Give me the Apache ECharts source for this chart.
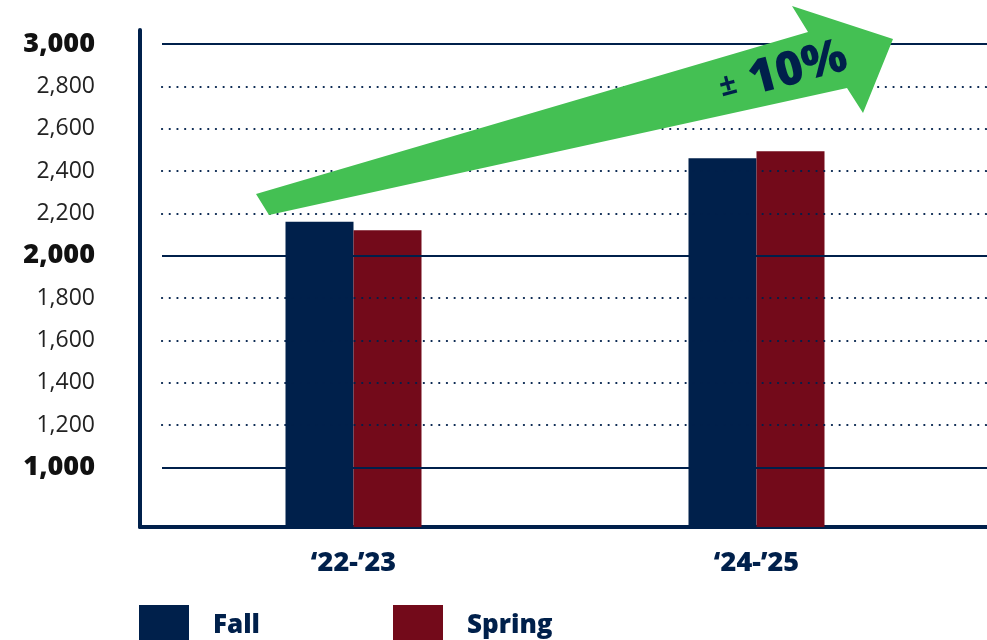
<!DOCTYPE html>
<html><head><meta charset="utf-8">
<script src="https://cdn.jsdelivr.net/npm/echarts@6/dist/echarts.min.js"></script>
<style>html,body{margin:0;padding:0;background:#fff}#c{width:987px;height:640px}</style>
</head><body><div id="c"></div>
<script>
const categories = ["\u201822-\u201923", "\u201824-\u201925"];
const fallValues = [2160, 2460];
const springValues = [2120, 2493];
const yTickValues = [1000, 1200, 1400, 1600, 1800, 2000, 2200, 2400, 2600, 2800, 3000];
const majorTicks = [1000, 2000, 3000];
const arrowLabel = "10%";

const NAVY = '#00204b', MAROON = '#730a1a', GREEN = '#44c053';
const FONT = "'Open Sans', sans-serif";
const Y_MIN = 718, Y_MAX = 3000;

const chart = echarts.init(document.getElementById('c'), null, {renderer: 'canvas'});

const gridLines = yTickValues.map(v => ({
  yAxis: v,
  lineStyle: majorTicks.includes(v)
    ? {type: 'solid', width: 2, color: NAVY}
    : {type: [0.1, 7.6], width: 2.2, color: NAVY, cap: 'round'}
}));

const fmt = v => v.toLocaleString('en-US');

chart.setOption({
  animation: false,
  backgroundColor: '#fff',
  grid: [
    {left: 152, right: 29, top: 44, bottom: 113},
    {left: 162, right: 0, top: 44, bottom: 113},
    {left: 140, right: 0, top: 30, bottom: 113}
  ],
  xAxis: [
    {gridIndex: 0, type: 'category', data: categories,
     axisLine: {show: false}, axisTick: {show: false},
     axisLabel: {margin: 23, color: NAVY, fontFamily: FONT, fontWeight: 800, fontSize: 27}},
    {gridIndex: 1, type: 'value', min: 0, max: 1, show: false},
    {gridIndex: 2, type: 'value', min: 0, max: 1,
     axisLine: {show: true, lineStyle: {color: NAVY, width: 4}},
     axisTick: {show: false}, axisLabel: {show: false}, splitLine: {show: false}}
  ],
  yAxis: [
    {gridIndex: 0, type: 'value', min: Y_MIN, max: Y_MAX,
     axisLine: {show: false}, axisTick: {show: false}, splitLine: {show: false},
     axisLabel: {
       customValues: yTickValues, margin: 57,
       formatter: v => majorTicks.includes(v) ? '{b|' + fmt(v) + '}' : '{r|' + fmt(v) + '}',
       rich: {
         b: {fontFamily: FONT, fontWeight: 800, fontSize: 27, color: '#111'},
         r: {fontFamily: FONT, fontWeight: 400, fontSize: 23, color: '#222'}
       }
     }},
    {gridIndex: 1, type: 'value', min: Y_MIN, max: Y_MAX, show: false},
    {gridIndex: 2, type: 'value', min: 0, max: 1,
     axisLine: {show: true, lineStyle: {color: NAVY, width: 4}},
     axisTick: {show: false}, axisLabel: {show: false}, splitLine: {show: false}}
  ],
  legend: [
    {data: ['Fall'], left: 139, top: 605, padding: 0, itemWidth: 50, itemHeight: 42,
     icon: 'rect', textStyle: {color: NAVY, fontFamily: FONT, fontWeight: 800, fontSize: 26, padding: [0, 0, 0, 19]}},
    {data: ['Spring'], left: 393, top: 605, padding: 0, itemWidth: 50, itemHeight: 42,
     icon: 'rect', textStyle: {color: NAVY, fontFamily: FONT, fontWeight: 800, fontSize: 26, padding: [0, 0, 0, 19]}}
  ],
  series: [
    {name: 'gridlines', type: 'line', xAxisIndex: 1, yAxisIndex: 1, data: [], silent: true,
     markLine: {silent: true, symbol: 'none', label: {show: false}, data: gridLines}, z: 1},
    {name: 'Fall', type: 'bar', xAxisIndex: 0, yAxisIndex: 0, data: fallValues,
     barWidth: 68, barGap: '0%', itemStyle: {color: NAVY}, z: 3},
    {name: 'Spring', type: 'bar', xAxisIndex: 0, yAxisIndex: 0, data: springValues,
     barWidth: 68, barGap: '0%', itemStyle: {color: MAROON}, z: 3}
  ],
  graphic: [
    {type: 'polygon', z: 10,
     shape: {points: [[256, 194], [808, 32], [792, 6], [893, 39], [863, 113], [847, 88], [269, 215]]},
     style: {fill: GREEN}},
    {type: 'text', z: 11, x: 728, y: 86, rotation: 0.26,
     style: {text: '\u00b1', font: "700 30px 'Open Sans', sans-serif", fill: NAVY, align: 'center', verticalAlign: 'middle'}},
    {type: 'text', z: 11, x: 798, y: 69, rotation: 0.26,
     style: {text: arrowLabel, font: "800 47px 'Open Sans', sans-serif", fill: NAVY, align: 'center', verticalAlign: 'middle'}}
  ]
});
</script></body></html>
